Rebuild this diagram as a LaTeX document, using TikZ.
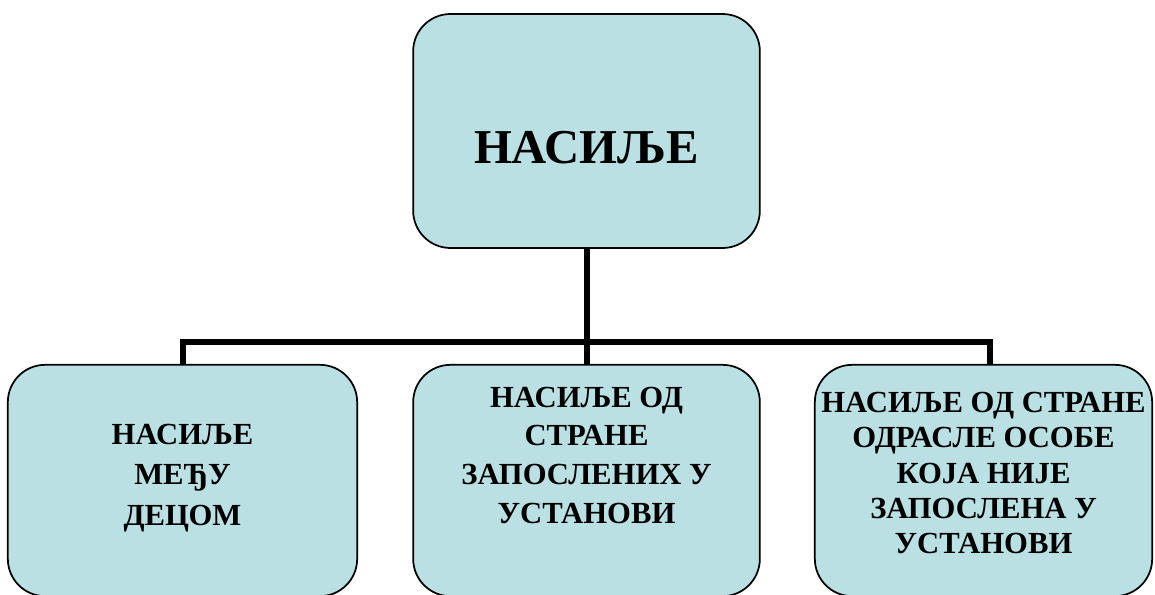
\documentclass[tikz,border=0pt]{standalone}
\usepackage{fontspec}
\setmainfont{Liberation Serif}
\usepackage{xcolor}
\definecolor{boxblue}{RGB}{187,224,227}

\begin{document}
\begin{tikzpicture}
[x=0.75pt, y=-0.75pt,
bluebox/.style={rectangle, rounded corners=28pt, draw=black, fill=boxblue, line width=1.3pt, inner sep=0pt},
topbox/.style={bluebox, minimum width=260pt, minimum height=175.5pt},
lowbox/.style={bluebox, minimum width=262pt, minimum height=173.5pt},
bigtext/.style={font=\fontsize{36.5}{40}\selectfont\bfseries, align=center},
smalltext/.style={font=\fontsize{23}{30.5}\selectfont\bfseries, align=center},
conn/.style={draw=black, line width=4.5pt}
]
\useasboundingbox (0,0) rectangle (1155,595);
\clip (0,0) rectangle (1155,595);

%top
\node at (586.5,131) [topbox] (top) {};
\node at (586.5,148) [bigtext] (toptxt) {НАСИЉЕ};

%level 1
\node at (182.5,480.5) [lowbox] (left) {};
\node at (182.5,478) [smalltext] (lefttxt) {НАСИЉЕ\\МЕЂУ\\ДЕЦОМ};

\node at (586.5,480.5) [lowbox, minimum width=260pt] (mid) {};
\node at (586.5,455) [smalltext, font=\fontsize{23}{29}\selectfont\bfseries] (midtxt) {НАСИЉЕ ОД\\СТРАНЕ\\ЗАПОСЛЕНИХ У\\УСТАНОВИ};

\node at (983.5,480.5) [lowbox, minimum width=253pt] (right) {};
\node at (983.5,473) [smalltext, font=\fontsize{23}{26.3}\selectfont\bfseries] (righttxt) {НАСИЉЕ ОД СТРАНЕ\\ОДРАСЛЕ ОСОБЕ\\КОЈА НИЈЕ\\ЗАПОСЛЕНА У\\УСТАНОВИ};

%connectors
\coordinate (split) at (586.5,342);
\coordinate (rdrop) at (990,365);
\draw[conn] (top.south) -- (split);
\draw[conn] (mid.north) -- (split);
\draw[conn] (left.north) |- (split);
\draw[conn] (rdrop) |- (split);

\end{tikzpicture}
\end{document}
